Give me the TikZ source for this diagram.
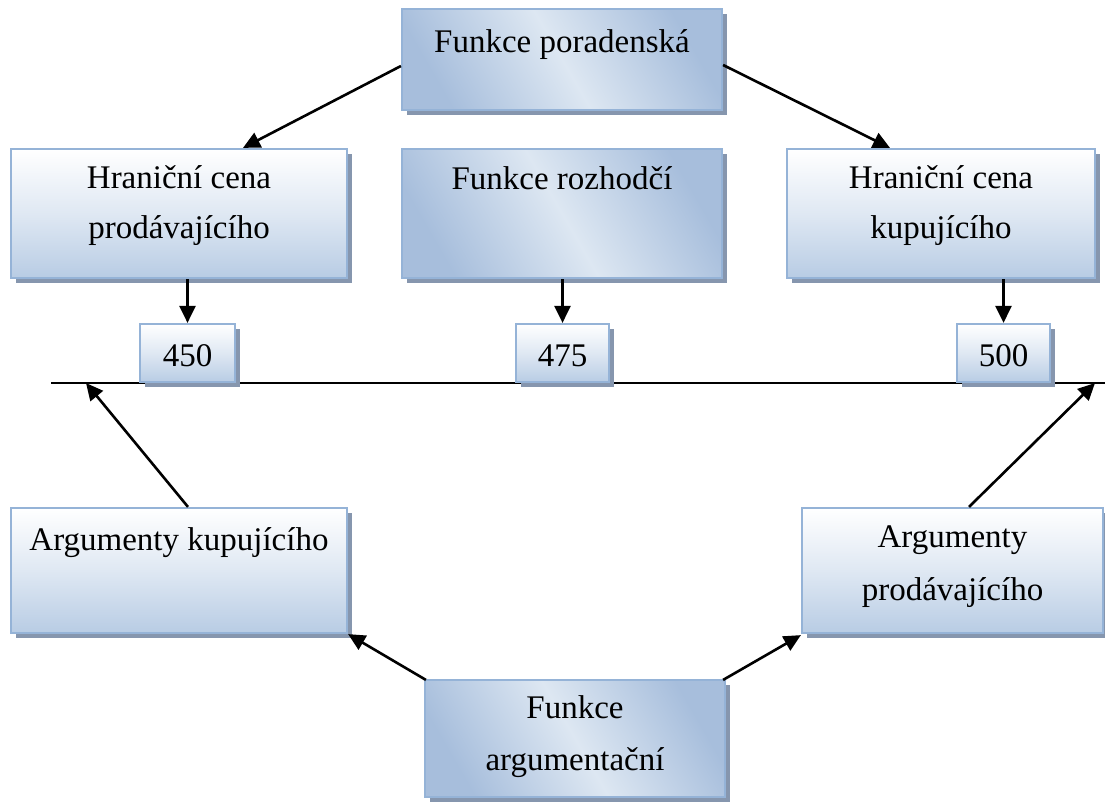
\documentclass[tikz,border=0pt]{standalone}
\usepackage{fontspec}
\setmainfont{Liberation Serif}
\usetikzlibrary{arrows.meta,shadows}
\definecolor{edgeblue}{HTML}{95B3D7}
\definecolor{shadowgray}{RGB}{134,150,174}
\definecolor{fadeblue}{HTML}{B8CCE4}
\definecolor{deepblue}{HTML}{A7BEDC}
\definecolor{paleblue}{HTML}{DDE7F2}
\tikzset{
  basebox/.style={draw=edgeblue, line width=2.2pt, inner sep=0pt,
    drop shadow={shadow xshift=4.5pt, shadow yshift=-4.5pt, fill=shadowgray, opacity=1}},
  vbox/.style={basebox, top color=white, bottom color=fadeblue, middle color=white!55!fadeblue},
  dbox/.style={basebox, left color=deepblue, right color=deepblue, middle color=paleblue, shading angle=120},
  txt/.style={font=\fontsize{33}{50}\selectfont, align=center, anchor=base, inner sep=0pt},
  arr/.style={line width=2.6pt, -{Triangle[length=17pt,width=16pt]}},
}
\begin{document}
\begin{tikzpicture}[x=1pt,y=-1pt]
\useasboundingbox (0,0) rectangle (1105,803);
% axis of prices
\coordinate (axL) at (51,383);
\coordinate (axR) at (1105,383);
\draw[line width=2pt] (axL) -- (axR);

% boxes
\node[dbox, minimum width=320pt, minimum height=101pt] (por) at (562,59.5) {};
\node[vbox, minimum width=336pt, minimum height=129pt] (hprod) at (179,213.5) {};
\node[dbox, minimum width=320pt, minimum height=129pt] (rozh) at (562,213.5) {};
\node[vbox, minimum width=308pt, minimum height=129pt] (hkup) at (941,213.5) {};
\node[vbox, minimum width=95pt, minimum height=58pt] (p450) at (187.5,353) {};
\node[vbox, minimum width=93pt, minimum height=58pt] (p475) at (562.5,353) {};
\node[vbox, minimum width=93pt, minimum height=58pt] (p500) at (1003.5,353) {};
\node[vbox, minimum width=336pt, minimum height=125pt] (akup) at (179,570.5) {};
\node[vbox, minimum width=301pt, minimum height=125pt] (aprod) at (952.5,570.5) {};
\node[dbox, minimum width=300pt, minimum height=117pt] (farg) at (575,738.5) {};

% texts (anchor base = baseline of the last line)
\node[txt] (tpor) at (562,52) {Funkce poradenská};
\node[txt] (thprod) at (179,238) {Hraniční cena\\prodávajícího};
\node[txt] (trozh) at (562,189) {Funkce rozhodčí};
\node[txt] (thkup) at (941,238) {Hraniční cena\\kupujícího};
\node[txt] (t450) at (187.5,366) {450};
\node[txt] (t475) at (562.5,366) {475};
\node[txt] (t500) at (1003.5,366) {500};
\node[txt] (takup) at (179,550) {Argumenty kupujícího};
\node[txt, font=\fontsize{33}{53}\selectfont] (taprod) at (952.5,600) {Argumenty\\prodávajícího};
\node[txt, font=\fontsize{33}{52}\selectfont] (tfarg) at (575,770) {Funkce\\argumentační};

% arrow ends on the axis
\coordinate (hitL) at (86,383);
\coordinate (hitR) at (1095,383);

% connectors
\draw[arr] ([yshift=-6.5pt]por.west) -- ([xshift=64pt]hprod.north);
\draw[arr] ([yshift=-5.5pt]por.east) -- ([xshift=-51pt]hkup.north);
\draw[arr] (hprod.south -| p450.north) -- (p450.north);
\draw[arr] (rozh.south -| p475.north) -- (p475.north);
\draw[arr] (hkup.south -| p500.north) -- (p500.north);
\draw[arr] ([xshift=9pt]akup.north) -- (hitL);
\draw[arr] ([xshift=16.5pt]aprod.north) -- (hitR);
\draw[arr] ([xshift=2pt,yshift=-1pt]farg.north west) -- (akup.south east);
\draw[arr] ([xshift=-3pt,yshift=-1pt]farg.north east) -- ([yshift=-1pt]aprod.south west);
\end{tikzpicture}
\end{document}
